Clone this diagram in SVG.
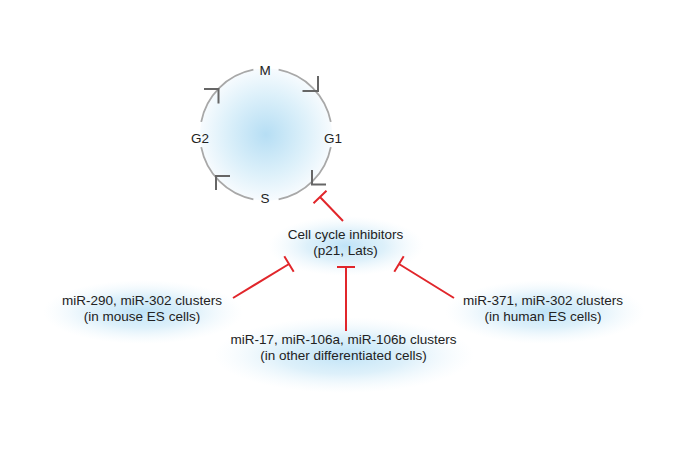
<svg xmlns="http://www.w3.org/2000/svg" width="685" height="462" viewBox="0 0 685 462">
  <defs>
    <radialGradient id="glow" cx="0.5" cy="0.5" r="0.5">
      <stop offset="0" stop-color="#bfe3f7" stop-opacity="1"/>
      <stop offset="0.5" stop-color="#cfeaf8" stop-opacity="0.7"/>
      <stop offset="1" stop-color="#e8f5fc" stop-opacity="0"/>
    </radialGradient>
    <radialGradient id="cellfill" cx="0.5" cy="0.5" r="0.5">
      <stop offset="0" stop-color="#b6def4"/>
      <stop offset="0.6" stop-color="#dcf0fa"/>
      <stop offset="1" stop-color="#f7fbfe"/>
    </radialGradient>
    <style>
      text { font-family: "Liberation Sans", Arial, sans-serif; font-size: 13.5px; fill: #222; text-anchor: middle; }
      .arc { fill: none; stroke: #a8a8a8; stroke-width: 1.8; }
      .head { fill: none; stroke: #666; stroke-width: 2; }
      .inh { fill: none; stroke: #e1262b; stroke-width: 2; }
    </style>
  </defs>
  <rect width="685" height="462" fill="#ffffff"/>

  <g id="cell-cycle">
    <circle cx="266" cy="134.5" r="66" fill="url(#cellfill)"/>
    <path class="arc" d="M278.6,69.7 A66,66 0 0 1 330.8,121.9"/>
    <path class="arc" d="M330.8,147.1 A66,66 0 0 1 278.6,199.3"/>
    <path class="arc" d="M253.4,199.3 A66,66 0 0 1 201.2,147.1"/>
    <path class="arc" d="M201.2,121.9 A66,66 0 0 1 253.4,69.7"/>
    <path class="head" d="M302.5,91 H318 V76"/>
    <path class="head" d="M312,170 V184.5 H326"/>
    <path class="head" d="M216,190 V176 H230"/>
    <path class="head" d="M204,89 H218.5 V103.5"/>
    <text x="265" y="75">M</text>
    <text x="333" y="143">G1</text>
    <text x="265" y="203">S</text>
    <text x="200" y="143">G2</text>
  </g>

  <g id="inhibitors">
    <ellipse cx="346" cy="246" rx="78" ry="30" fill="url(#glow)"/>
    <text x="345.5" y="239">Cell cycle inhibitors</text>
    <text x="345.5" y="255">(p21, Lats)</text>
  </g>

  <g id="mouse">
    <ellipse cx="143" cy="312" rx="100" ry="32" fill="url(#glow)"/>
    <text x="142" y="305">miR-290, miR-302 clusters</text>
    <text x="142" y="321">(in mouse ES cells)</text>
  </g>

  <g id="differentiated">
    <ellipse cx="344" cy="355" rx="130" ry="38" fill="url(#glow)"/>
    <text x="343.5" y="344">miR-17, miR-106a, miR-106b clusters</text>
    <text x="343.5" y="360">(in other differentiated cells)</text>
  </g>

  <g id="human">
    <ellipse cx="545" cy="312" rx="100" ry="32" fill="url(#glow)"/>
    <text x="543" y="305">miR-371, miR-302 clusters</text>
    <text x="543" y="321">(in human ES cells)</text>
  </g>

  <g id="connectors">
    <path class="inh" d="M343,221 L320,197 M326.5,190.8 L313.5,203.2"/>
    <path class="inh" d="M233,298 L289,264 M284.3,256.3 L293.7,271.7"/>
    <path class="inh" d="M346,331 L346,267 M337,267 L355,267"/>
    <path class="inh" d="M454,298 L399,264 M403.7,256.3 L394.3,271.7"/>
  </g>
</svg>
